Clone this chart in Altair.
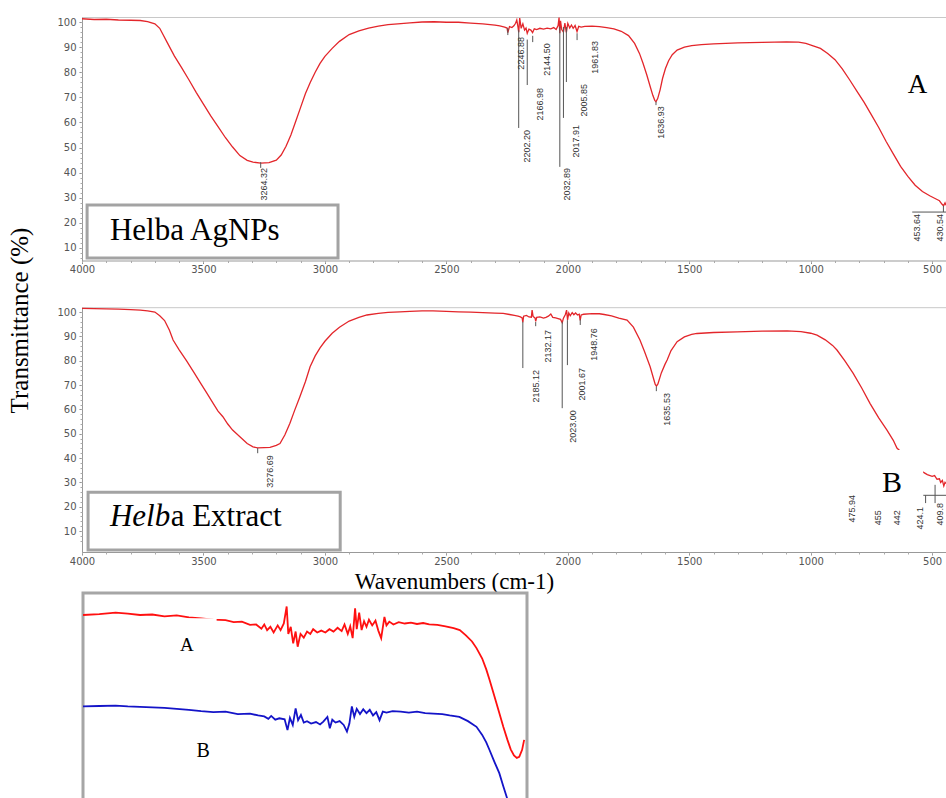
import altair as alt
import pandas as pd

# ---------------- data ----------------
# (wavenumber cm-1, transmittance %) - Helba AgNPs (A)
spectrum_a = [
    (4000, 101.3), (3950, 101.0), (3900, 101.1), (3850, 100.8), (3800, 100.7), (3760, 100.6),
    (3730, 100.2), (3700, 99.3), (3680, 97.5), (3650, 92.0), (3620, 86.5), (3590, 81.8),
    (3560, 77.0), (3530, 72.0), (3500, 67.3), (3470, 62.6), (3440, 58.3), (3410, 54.0),
    (3380, 50.2), (3350, 46.8), (3320, 44.9), (3296, 44.2), (3264, 43.8), (3230, 44.0),
    (3200, 45.0), (3180, 47.0), (3160, 50.5), (3140, 55.0), (3120, 60.5), (3100, 66.0),
    (3080, 71.5), (3060, 76.0), (3040, 80.0), (3020, 83.5), (3000, 86.3), (2970, 89.5),
    (2940, 92.3), (2900, 95.0), (2860, 96.5), (2820, 97.6), (2780, 98.4), (2740, 99.0),
    (2700, 99.3), (2650, 99.7), (2600, 100.0), (2550, 100.1), (2500, 99.9), (2450, 99.9),
    (2400, 99.6), (2350, 99.3), (2300, 98.8), (2280, 98.5), (2260, 98.0), (2250, 97.6),
    (2247, 95.8), (2240, 98.2), (2230, 97.8), (2222, 98.5), (2215, 99.5), (2210, 100.8),
    (2205, 98.0), (2202, 95.9), (2198, 101.6), (2192, 97.5), (2185, 99.3), (2178, 96.8),
    (2172, 97.6), (2167, 95.5), (2160, 97.2), (2152, 96.8), (2145, 95.8), (2138, 97.3),
    (2128, 97.0), (2115, 97.5), (2100, 97.2), (2085, 97.6), (2070, 97.3), (2058, 97.8),
    (2048, 97.0), (2040, 98.6), (2036, 101.8), (2033, 95.5), (2030, 100.5), (2025, 97.0),
    (2018, 96.0), (2012, 99.6), (2006, 95.9), (2000, 99.5), (1992, 97.6), (1985, 98.8),
    (1978, 97.5), (1970, 98.6), (1962, 96.2), (1955, 98.3), (1945, 98.0), (1930, 98.3),
    (1900, 98.4), (1870, 98.2), (1840, 97.8), (1810, 97.3), (1780, 96.3), (1750, 94.6),
    (1725, 91.5), (1705, 87.5), (1690, 83.5), (1675, 79.0), (1660, 74.0), (1650, 70.8),
    (1642, 68.8), (1637, 68.3), (1630, 69.5), (1620, 73.0), (1610, 77.5), (1598, 81.5),
    (1585, 84.6), (1570, 87.0), (1550, 88.8), (1520, 90.0), (1490, 90.6), (1450, 91.0),
    (1400, 91.3), (1350, 91.5), (1300, 91.7), (1250, 91.8), (1200, 91.9), (1150, 92.0),
    (1100, 92.1), (1050, 92.0), (1020, 91.5), (990, 90.5), (960, 89.5), (930, 87.5),
    (900, 85.0), (870, 81.3), (840, 77.0), (810, 72.5), (780, 68.0), (750, 63.0),
    (720, 58.0), (690, 52.5), (660, 47.5), (630, 42.5), (600, 38.5), (570, 35.0),
    (540, 32.5), (510, 30.8), (490, 29.8), (470, 28.8), (460, 27.5), (453, 26.8),
    (447, 28.0), (443, 27.0),
]

# Helba Extract (B)
spectrum_b = [
    (4000, 101.5), (3950, 101.4), (3900, 101.3), (3850, 101.2), (3800, 101.0), (3760, 100.8),
    (3730, 100.5), (3700, 100.0), (3680, 98.5), (3660, 96.5), (3640, 92.5), (3625, 88.5),
    (3600, 84.5), (3570, 80.0), (3540, 75.3), (3510, 70.5), (3486, 66.7), (3460, 62.5),
    (3440, 59.3), (3420, 57.0), (3400, 54.0), (3380, 51.5), (3350, 48.8), (3320, 46.0),
    (3296, 44.6), (3277, 44.2), (3250, 44.3), (3226, 44.4), (3200, 45.2), (3185, 46.0),
    (3165, 49.5), (3144, 54.3), (3125, 59.5), (3103, 65.2), (3080, 71.5), (3061, 77.5),
    (3040, 82.0), (3020, 85.3), (3000, 88.0), (2970, 91.3), (2940, 93.8), (2900, 96.3),
    (2860, 97.8), (2827, 98.8), (2780, 99.5), (2740, 99.9), (2691, 100.1), (2650, 100.3),
    (2600, 100.5), (2555, 100.5), (2500, 100.3), (2450, 100.1), (2400, 100.0), (2350, 99.8),
    (2300, 99.6), (2266, 99.5), (2240, 99.0), (2220, 98.6), (2205, 98.3), (2195, 98.0),
    (2188, 97.6), (2185, 95.8), (2182, 98.3), (2170, 98.6), (2160, 98.0), (2150, 97.9),
    (2147, 100.8), (2143, 98.2), (2135, 97.6), (2132, 96.2), (2128, 97.8), (2115, 98.0),
    (2100, 97.5), (2090, 97.8), (2080, 98.3), (2070, 99.2), (2062, 97.8), (2050, 97.6),
    (2040, 97.3), (2030, 97.0), (2023, 95.6), (2018, 97.5), (2010, 99.0), (2005, 100.8),
    (2001, 96.8), (1996, 99.6), (1990, 98.5), (1982, 99.8), (1975, 98.9), (1968, 99.6),
    (1960, 98.8), (1953, 99.1), (1949, 96.6), (1945, 98.8), (1935, 99.1), (1900, 99.4),
    (1870, 99.3), (1850, 99.0), (1820, 98.4), (1790, 97.5), (1756, 96.7), (1730, 93.8),
    (1703, 88.5), (1685, 84.0), (1661, 77.5), (1648, 73.0), (1640, 70.3), (1635, 69.6),
    (1629, 70.5), (1615, 75.0), (1600, 78.5), (1591, 80.3), (1575, 84.2), (1550, 87.8),
    (1520, 89.8), (1490, 90.8), (1468, 91.2), (1400, 91.6), (1303, 91.9), (1200, 92.2),
    (1097, 92.3), (1040, 92.0), (1000, 91.3), (974, 90.5), (940, 88.6), (910, 86.3),
    (892, 84.4), (860, 80.0), (825, 74.8), (790, 68.8), (756, 62.5), (720, 56.5),
    (686, 51.5), (660, 47.3), (645, 44.1), (620, 41.8), (600, 39.8), (580, 38.0),
    (560, 36.3), (537, 34.2), (520, 33.2), (500, 32.5), (490, 32.8), (480, 31.3),
    (470, 31.5), (465, 30.0), (458, 30.8), (452, 28.5), (447, 30.0), (443, 29.5),
]

# inset: enlarged 2700-1610 cm-1 region, A (red) and B (blue)
inset_a = [
    (2700, 98.0), (2660, 98.2), (2620, 98.5), (2590, 98.3), (2560, 98.0), (2530, 98.1),
    (2500, 97.7), (2470, 97.9), (2440, 97.5), (2410, 97.3), (2380, 97.0), (2350, 96.9),
    (2330, 96.5), (2310, 96.6), (2290, 95.9), (2275, 96.0), (2262, 95.1), (2255, 96.0),
    (2248, 94.8), (2240, 95.5), (2232, 94.3), (2222, 95.8), (2215, 94.8), (2207, 96.2),
    (2200, 99.8), (2196, 94.0), (2190, 95.5), (2184, 92.0), (2178, 94.5), (2173, 91.3),
    (2166, 94.0), (2158, 93.2), (2150, 94.5), (2142, 94.0), (2135, 95.0), (2125, 94.3),
    (2115, 94.7), (2105, 94.3), (2095, 95.0), (2085, 94.5), (2075, 95.3), (2065, 94.6),
    (2058, 96.0), (2050, 94.0), (2044, 95.6), (2038, 93.1), (2032, 99.4), (2028, 95.0),
    (2022, 98.5), (2016, 94.8), (2010, 96.7), (2004, 95.5), (1998, 97.0), (1990, 95.8),
    (1982, 96.8), (1975, 94.7), (1968, 93.1), (1960, 97.6), (1955, 95.8), (1948, 96.6),
    (1938, 96.0), (1925, 96.5), (1910, 96.2), (1895, 96.4), (1880, 96.1), (1865, 96.3),
    (1850, 96.0), (1830, 95.9), (1810, 95.6), (1790, 95.2), (1775, 94.8), (1760, 93.7),
    (1745, 92.4), (1734, 91.0), (1720, 88.8), (1710, 86.5), (1702, 84.3), (1690, 80.8),
    (1678, 77.3), (1668, 74.3), (1658, 71.6), (1650, 69.6), (1642, 68.3), (1635, 67.8),
    (1629, 68.0), (1622, 69.5), (1617, 71.6),
]
inset_b = [
    (2700, 99.4), (2660, 99.5), (2620, 99.6), (2590, 99.4), (2560, 99.3), (2530, 99.2),
    (2500, 99.1), (2470, 98.9), (2440, 98.7), (2410, 98.4), (2380, 98.2), (2350, 98.3),
    (2320, 97.8), (2290, 97.9), (2270, 97.5), (2255, 97.3), (2245, 96.8), (2238, 97.4),
    (2228, 96.6), (2218, 96.9), (2205, 96.7), (2198, 94.4), (2192, 97.0), (2185, 95.5),
    (2178, 99.0), (2172, 96.5), (2165, 97.6), (2158, 96.0), (2150, 96.3), (2140, 95.8),
    (2128, 96.1), (2118, 95.6), (2110, 96.2), (2100, 97.2), (2094, 94.8), (2088, 96.6),
    (2080, 96.0), (2070, 96.3), (2060, 95.5), (2052, 94.1), (2046, 95.8), (2040, 99.4),
    (2034, 97.2), (2028, 98.9), (2020, 97.8), (2012, 98.8), (2004, 98.0), (1996, 98.7),
    (1988, 97.5), (1980, 98.2), (1972, 96.5), (1964, 98.3), (1955, 98.1), (1940, 98.4),
    (1920, 98.3), (1900, 98.1), (1880, 98.3), (1860, 98.0), (1840, 97.9), (1818, 97.8),
    (1800, 97.5), (1776, 97.2), (1755, 96.3), (1734, 95.1), (1720, 93.4), (1710, 91.8),
    (1702, 90.2), (1690, 87.7), (1678, 85.3), (1668, 82.5), (1660, 80.3), (1650, 77.5),
]

# peak marker lines: (wavenumber, top %, bottom %)
peak_lines_a = [
    (3264.32, 44.2, 41.9), (2246.88, 97.6, 94.8), (2202.20, 96.8, 57.8), (2166.98, 93.0, 74.9),
    (2144.50, 94.5, 92.0), (2032.89, 98.0, 42.3), (2017.91, 98.0, 61.8), (2005.85, 98.0, 76.1),
    (1961.83, 95.5, 92.8), (1636.93, 68.3, 66.9), (453.64, 26.8, 24.3),
]
# peak labels: (text, anchor wavenumber, top %)
peak_labels_a = [
    ("3264.32", 3267, 41.9), ("2246.88", 2209, 94.0), ("2202.20", 2184, 57.0),
    ("2166.98", 2131, 73.7), ("2144.50", 2102, 91.6), ("2032.89", 2019, 41.9),
    ("2017.91", 1982, 59.0), ("2005.85", 1949, 75.3), ("1961.83", 1904, 92.4),
    ("1636.93", 1632, 66.5), ("453.64", 578, 23.5), ("430.54", 484, 23.5),
]
leaders_a = [(582, 443, 24.3)]

peak_lines_b = [
    (3276.69, 44.1, 42.0), (2185.12, 96.0, 77.0), (2132.17, 95.9, 94.2), (2023.00, 96.0, 60.5),
    (2001.67, 96.7, 78.2), (1948.76, 97.0, 94.7), (1635.53, 69.4, 67.5),
    (527, 24.7, 21.5), (488, 29.0, 21.5),
]
peak_labels_b = [
    ("3276.69", 3242, 41.2), ("2185.12", 2147, 76.2), ("2132.17", 2098, 92.6),
    ("2023.00", 1995, 59.7), ("2001.67", 1958, 77.0), ("1948.76", 1908, 93.4),
    ("1635.53", 1608, 66.7), ("475.94", 846, 24.8), ("455", 739, 18.6), ("442", 661, 18.6),
    ("424.1", 566, 19.9), ("409.8", 484, 21.5),
]
leaders_b = [(537, 443, 24.7)]

x_major = [4000, 3500, 3000, 2500, 2000, 1500, 1000, 500]
x_minor = [4000, 3900, 3800, 3700, 3600, 3500, 3400, 3300, 3200, 3100, 3000, 2900, 2800,
           2700, 2600, 2500, 2400, 2300, 2200, 2100, 2000, 1900, 1800, 1700, 1600, 1500,
           1400, 1300, 1200, 1100, 1000, 900, 800, 700, 600, 500]
y_major = [10, 20, 30, 40, 50, 60, 70, 80, 90, 100]

# ---------------- layout (pixel ranges of the scales) ----------------
W, H = 946, 798
X_DOM, X_RNG = [4000, 443], [82, 946]
YA_DOM, YA_RNG = [5, 102], [260.5, 17]
YB_DOM, YB_RNG = [1.4, 102], [552, 307.2]
IX_DOM, IX_RNG = [2700, 1610], [83, 527]
IR_DOM, IR_RNG = [55, 102.65], [818.4, 593]
IB_DOM, IB_RNG = [55, 102.65], [916.5, 691.1]
XA_OFF = YA_RNG[0] - H
XB_OFF = YB_RNG[0] - H

RED = "#e3262b"
SERIF = "Liberation Serif"


def sc(d, r):
    return alt.Scale(domain=d, range=r, nice=False, zero=False)


lab = dict(labelFont="DejaVu Sans", labelFontSize=10, labelColor="#555555")


def ax_x_major(off, title=None, **kw):
    return alt.Axis(orient="bottom", offset=off, values=x_major, format="d", tickSize=3,
                    tickColor="#888888", domainColor="#999999", labelPadding=1,
                    labelFlush=False, labelOverlap=False, grid=False, title=title, **lab, **kw)


def ax_x_minor(off):
    return alt.Axis(orient="bottom", offset=off, values=x_minor, tickSize=2, tickColor="#aaaaaa",
                    domain=False, labels=False, grid=False, title=None)


def ax_x_top(off):
    return alt.Axis(orient="top", offset=off, domainColor="#c8c8c8", ticks=False, labels=False,
                    grid=False, title=None)


def ax_y_major(title=None, **kw):
    return alt.Axis(orient="left", offset=-82, values=y_major, format="d", tickSize=3,
                    tickColor="#888888", domainColor="#999999", labelPadding=3, grid=False,
                    title=title, **lab, **kw)


def ax_y_minor():
    return alt.Axis(orient="left", offset=-82, values=list(range(6, 101, 2)), tickSize=2,
                    tickColor="#aaaaaa", domain=False, labels=False, grid=False, title=None)


def df_pairs(pairs):
    return pd.DataFrame(pairs, columns=["w", "t"])


def panel(spec, lines, labels, leaders, ydom, yrng, xoff, topoff, yaxis, xaxis):
    layers = []
    layers.append(
        alt.Chart(df_pairs(spec)).mark_line(color=RED, strokeWidth=1.3).encode(
            x=alt.X("w:Q", scale=sc(X_DOM, X_RNG), axis=xaxis),
            y=alt.Y("t:Q", scale=sc(ydom, yrng), axis=yaxis),
        )
    )
    layers.append(
        alt.Chart(pd.DataFrame(lines, columns=["w", "t1", "t2"])).mark_rule(
            color="#555555", strokeWidth=1).encode(
            x=alt.X("w:Q", scale=sc(X_DOM, X_RNG), axis=ax_x_minor(xoff)),
            y=alt.Y("t1:Q", scale=sc(ydom, yrng), axis=ax_y_minor()),
            y2="t2:Q",
        )
    )
    layers.append(
        alt.Chart(pd.DataFrame(leaders, columns=["w1", "w2", "t"])).mark_rule(
            color="#555555", strokeWidth=1).encode(
            x=alt.X("w1:Q", scale=sc(X_DOM, X_RNG), axis=None),
            x2="w2:Q",
            y=alt.Y("t:Q", scale=sc(ydom, yrng), axis=None),
        )
    )
    layers.append(
        alt.Chart(pd.DataFrame(labels, columns=["label", "w", "t"])).mark_text(
            angle=270, align="right", baseline="top", font="Liberation Sans", fontSize=9,
            color="#333333").encode(
            x=alt.X("w:Q", scale=sc(X_DOM, X_RNG), axis=ax_x_top(topoff)),
            y=alt.Y("t:Q", scale=sc(ydom, yrng), axis=None),
            text="label:N",
        )
    )
    return layers


def box(w1, w2, t1, t2, xdom, xrng, ydom, yrng, stroke="#a3a3a3", sw=3):
    d = pd.DataFrame({"w1": [w1], "w2": [w2], "t1": [t1], "t2": [t2]})
    kw = dict(fill="white")
    if stroke:
        kw.update(stroke=stroke, strokeWidth=sw)
    return alt.Chart(d).mark_rect(**kw).encode(
        x=alt.X("w1:Q", scale=sc(xdom, xrng), axis=None), x2="w2:Q",
        y=alt.Y("t1:Q", scale=sc(ydom, yrng), axis=None), y2="t2:Q",
    )


def label(txt, w, t, xdom, xrng, ydom, yrng, size, align="center", style="normal"):
    d = pd.DataFrame({"w": [w], "t": [t], "s": [txt]})
    return alt.Chart(d).mark_text(font=SERIF, fontSize=size, align=align, baseline="alphabetic",
                                  fontStyle=style, color="black").encode(
        x=alt.X("w:Q", scale=sc(xdom, xrng), axis=None),
        y=alt.Y("t:Q", scale=sc(ydom, yrng), axis=None),
        text="s:N",
    )


layers = []

# ---- panel A ----
ya_axis = ax_y_major(title="Transmittance (%)", titleFont=SERIF, titleFontSize=25,
                     titleFontWeight="normal", titleColor="black", titleX=-55, titleY=320,
                     titleAngle=270, titleAlign="center", titleBaseline="alphabetic")
layers += panel(spectrum_a, peak_lines_a, peak_labels_a, leaders_a, YA_DOM, YA_RNG,
                XA_OFF, -YA_RNG[1], ya_axis, ax_x_major(XA_OFF))
layers.append(box(3979, 2946, 27.1, 6.0, X_DOM, X_RNG, YA_DOM, YA_RNG))
layers.append(label("Helba AgNPs", 3885, 13.2, X_DOM, X_RNG, YA_DOM, YA_RNG, 31, align="left"))
layers.append(label("A", 560, 71.7, X_DOM, X_RNG, YA_DOM, YA_RNG, 27))

# ---- panel B ----
xb_axis = ax_x_major(XB_OFF, title="Wavenumbers (cm-1)", titleFont=SERIF, titleFontSize=23,
                     titleFontWeight="normal", titleColor="black", titleX=454, titleY=36,
                     titleAlign="center", titleBaseline="alphabetic")
layers += panel(spectrum_b, peak_lines_b, peak_labels_b, leaders_b, YB_DOM, YB_RNG,
                XB_OFF, -YB_RNG[1], ax_y_major(), xb_axis)
layers.append(box(3975, 2937, 26.0, 2.2, X_DOM, X_RNG, YB_DOM, YB_RNG))
layers.append(label("Helb", 3885, 12.0, X_DOM, X_RNG, YB_DOM, YB_RNG, 31, align="left",
                    style="italic"))
layers.append(label("a Extract", 3635, 12.0, X_DOM, X_RNG, YB_DOM, YB_RNG, 31, align="left"))
layers.append(box(784, 537, 43.3, 21.5, X_DOM, X_RNG, YB_DOM, YB_RNG, stroke=None))
layers.append(label("B", 665, 26.0, X_DOM, X_RNG, YB_DOM, YB_RNG, 30))

# ---- inset ----
layers.append(box(2700, 1610, 102.65, 55, IX_DOM, IX_RNG, IR_DOM, IR_RNG, stroke="#a6a6a6"))
layers.append(
    alt.Chart(df_pairs(inset_a)).mark_line(color="#ff1010", strokeWidth=1.8, clip=True).encode(
        x=alt.X("w:Q", scale=sc(IX_DOM, IX_RNG), axis=None),
        y=alt.Y("t:Q", scale=sc(IR_DOM, IR_RNG), axis=None),
    )
)
layers.append(
    alt.Chart(df_pairs(inset_b)).mark_line(color="#1414c8", strokeWidth=1.8, clip=True).encode(
        x=alt.X("w:Q", scale=sc(IX_DOM, IX_RNG), axis=None),
        y=alt.Y("t:Q", scale=sc(IB_DOM, IB_RNG), axis=None),
    )
)
layers.append(box(2514, 2372, 97.3, 88.5, IX_DOM, IX_RNG, IR_DOM, IR_RNG, stroke=None))
layers.append(label("A", 2445, 90.4, IX_DOM, IX_RNG, IR_DOM, IR_RNG, 19))
layers.append(label("B", 2405, 88.7, IX_DOM, IX_RNG, IB_DOM, IB_RNG, 20))

chart = alt.layer(*layers).resolve_scale(x="independent", y="independent").properties(
    width=W, height=H, padding=0, background="white",
    autosize=alt.AutoSizeParams(type="none"),
).configure_view(stroke=None)

chart.save("out.html", embed_options={"renderer": "svg", "actions": False})
